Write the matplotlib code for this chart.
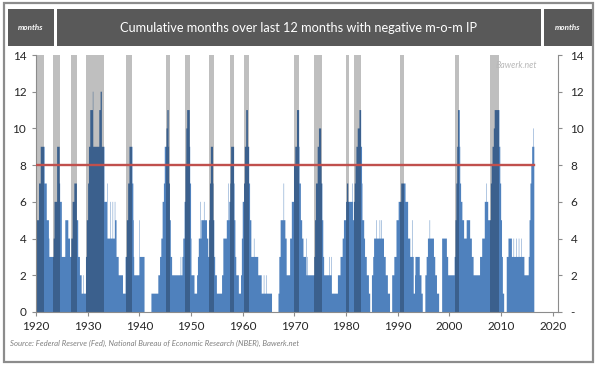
import matplotlib
matplotlib.use("Agg")
import matplotlib.pyplot as plt
import numpy as np
from matplotlib.patches import Rectangle

# ---------------- data ----------------
# Monthly series: months since Jan 1920 at which the count changes, and the new count
change_month = [
    0, 7, 11, 20, 25, 30, 31, 41, 43, 49, 55, 56, 60, 68, 75, 79, 82, 85, 89, 95,
    98, 102, 106, 110, 111, 116, 118, 121, 123, 126, 132, 133, 147, 150, 153, 159,
    165, 166, 172, 173, 178, 179, 183, 184, 187, 192, 202, 208, 211, 214, 217, 224,
    226, 227, 228, 240, 241, 252, 268, 284, 288, 291, 294, 297, 299, 303, 305, 308,
    309, 311, 313, 316, 336, 337, 340, 342, 345, 347, 349, 351, 357, 358, 360, 361,
    368, 374, 376, 378, 382, 383, 384, 390, 391, 397, 400, 402, 404, 406, 411, 412,
    414, 416, 420, 432, 435, 443, 446, 447, 449, 451, 452, 453, 460, 461, 463, 465,
    471, 476, 478, 480, 483, 485, 488, 492, 495, 497, 500, 506, 507, 516, 524, 529,
    530, 534, 535, 548, 563, 565, 568, 575, 576, 579, 582, 590, 594, 599, 602, 606,
    611, 612, 615, 618, 621, 627, 628, 630, 631, 646, 648, 650, 654, 657, 662, 663,
    665, 667, 669, 681, 682, 686, 687, 701, 707, 712, 715, 720, 722, 725, 735, 736,
    738, 740, 742, 744, 747, 751, 755, 757, 758, 762, 764, 768, 773, 776, 780, 783,
    785, 790, 791, 798, 799, 802, 803, 808, 812, 817, 822, 827, 832, 837, 842, 848,
    858, 864, 869, 873, 874, 877, 880, 881, 891, 895, 898, 904, 907, 910, 914, 915,
    924, 927, 931, 936, 943, 954, 957, 972, 974, 976, 978, 980, 984, 985, 987, 990,
    994, 1000, 1008, 1012, 1016, 1031, 1036, 1042, 1046, 1047, 1050, 1056, 1058,
    1060, 1063, 1065, 1076, 1078, 1080, 1082, 1084, 1087, 1093, 1097, 1105, 1109,
    1110, 1115, 1116, 1121, 1122, 1127, 1128, 1134, 1144, 1146, 1148, 1150, 1152,
    1154, 1155,
]
change_value = [
    5, 7, 9, 7, 5, 4, 3, 4, 6, 9, 7, 6, 3, 5, 4, 3, 4, 6, 7, 5,
    3, 2, 1, 2, 1, 3, 5, 7, 9, 11, 12, 9, 11, 12, 9, 6,
    7, 4, 6, 4, 6, 4, 6, 5, 3, 2, 1, 3, 5, 7, 9, 7,
    5, 3, 2, 5, 3, 0, 1, 2, 3, 4, 6, 7, 9, 10, 11, 9,
    7, 5, 3, 2, 3, 2, 3, 4, 6, 8, 10, 11, 9, 7, 4, 2,
    1, 2, 3, 4, 6, 4, 5, 6, 5, 4, 3, 5, 7, 9, 7, 5,
    3, 2, 1, 2, 4, 5, 7, 5, 6, 7, 8, 9, 7, 5, 3, 2,
    1, 2, 4, 6, 7, 9, 11, 9, 7, 5, 3, 4, 3, 2, 1, 2,
    1, 2, 1, 0, 1, 3, 5, 7, 5, 4, 2, 4, 6, 8, 9, 11,
    9, 7, 5, 4, 3, 4, 2, 3, 2, 3, 5, 7, 9, 10, 8, 7,
    5, 3, 2, 3, 2, 3, 1, 2, 3, 4, 5, 6, 7, 6, 7, 5,
    6, 7, 8, 9, 10, 11, 9, 7, 5, 4, 3, 2, 1, 0, 2, 3,
    4, 5, 4, 5, 4, 5, 4, 3, 2, 1, 0, 2, 3, 5, 6, 7,
    6, 4, 3, 5, 3, 1, 2, 3, 2, 1, 0, 2, 3, 4, 5, 4,
    3, 2, 1, 0, 4, 3, 2, 3, 5, 7, 9, 11, 9, 7, 6, 5,
    4, 5, 4, 3, 2, 3, 4, 6, 7, 6, 5, 7, 8,
    9, 10, 11, 9, 7, 5, 3, 1, 0, 3, 4, 3, 4,
    3, 4, 3, 4, 3, 4, 3, 2, 3, 5, 7, 8, 9,
    10, 9,
]
end_month = 1157          # data runs through Apr 2016
start_year = 1920
threshold = 8

# NBER recessions (peak month, trough month)
recession_start = ["1920-01", "1923-05", "1926-10", "1929-08", "1937-05", "1945-02",
                   "1948-11", "1953-07", "1957-08", "1960-04", "1969-12", "1973-11",
                   "1980-01", "1981-07", "1990-07", "2001-03", "2007-12"]
recession_end = ["1921-07", "1924-07", "1927-11", "1933-03", "1938-06", "1945-10",
                 "1949-10", "1954-05", "1958-04", "1961-02", "1970-11", "1975-03",
                 "1980-07", "1982-11", "1991-03", "2001-11", "2009-06"]

x_ticks = [1920, 1930, 1940, 1950, 1960, 1970, 1980, 1990, 2000, 2010, 2020]
y_ticks = [0, 2, 4, 6, 8, 10, 12, 14]
right_labels = ["-", "2", "4", "6", "8", "10", "12", "14"]

title = "Cumulative months over last 12 months with negative m-o-m IP"
unit_label = "months"
source = "Source: Federal Reserve (Fed), National Bureau of Economic Research (NBER), Bawerk.net"
watermark = "Bawerk.net"

# ---------------- expand series ----------------
bounds = list(change_month) + [end_month]
monthly = np.concatenate([np.full(bounds[i + 1] - bounds[i], v)
                          for i, v in enumerate(change_value)])
edges = start_year + np.arange(len(monthly) + 1) / 12.0

def ym(s, end=False):
    y, m = s.split("-")
    return int(y) + (int(m) - (0 if end else 1)) / 12.0

# ---------------- figure ----------------
plt.rcParams['font.family'] = ['Lato', 'DejaVu Sans']
W, H = 600, 367
fig = plt.figure(figsize=(6, 3.67), dpi=100)
fig.patch.set_facecolor("white")

def fx(px): return px / W
def fy(py): return 1 - py / H

# outer frame
fig.add_artist(Rectangle((fx(4), fy(362)), fx(593) - fx(4), (362 - 3) / H,
                         transform=fig.transFigure, fill=False,
                         edgecolor="#8c8c8c", lw=1.6))
# header boxes
hdr_top, hdr_bot = 9, 46
for x0, x1 in [(8, 54), (57, 541), (544, 592)]:
    fig.add_artist(Rectangle((fx(x0), fy(hdr_bot)), fx(x1) - fx(x0), (hdr_bot - hdr_top) / H,
                             transform=fig.transFigure, facecolor="#595959",
                             edgecolor="none"))
ymid = fy((hdr_top + hdr_bot) / 2)
fig.text(fx(31), ymid, unit_label, color="white", fontsize=5.8, fontweight="bold",
         fontstyle="italic", ha="center", va="center")
fig.text(fx(568), ymid, unit_label, color="white", fontsize=5.8, fontweight="bold",
         fontstyle="italic", ha="center", va="center")
fig.text(fx(298), ymid, title, color="white", fontsize=9.2, ha="center", va="center")

# axes
ax = fig.add_axes([fx(36), fy(312), fx(558) - fx(36), (312 - 55) / H])
ax.stairs(monthly, edges, fill=True, color="#4F81BD", lw=0, zorder=1)
for s, e in zip(recession_start, recession_end):
    ax.axvspan(ym(s), ym(e, end=True), ymin=0, ymax=1, facecolor="black",
               alpha=0.25, lw=0, zorder=2)
ax.plot([edges[0], edges[-1]], [threshold, threshold], color="#C0504D", lw=1.7, zorder=3)

ax.set_xlim(1920, 2021)
ax.set_ylim(0, 14)
ax.set_xticks(x_ticks)
ax.set_xticklabels([str(t) for t in x_ticks])
ax.set_yticks(y_ticks)
ax.set_yticklabels([str(t) for t in y_ticks])
for sp in ["top", "right"]:
    ax.spines[sp].set_visible(False)
for sp in ["left", "bottom"]:
    ax.spines[sp].set_color("#8c8c8c")
    ax.spines[sp].set_linewidth(0.8)
ax.tick_params(axis="both", colors="#8c8c8c", labelcolor="#262626", labelsize=8.5,
               length=3, width=0.8)
ax.tick_params(axis="y", pad=4)

ax2 = ax.twinx()
ax2.set_ylim(0, 14)
ax2.set_yticks(y_ticks)
ax2.set_yticklabels(right_labels)
for sp in ["top", "left", "bottom"]:
    ax2.spines[sp].set_visible(False)
ax2.spines["right"].set_color("#8c8c8c")
ax2.spines["right"].set_linewidth(0.8)
ax2.tick_params(axis="y", colors="#8c8c8c", labelcolor="#262626", labelsize=8.5,
                length=3, width=0.8, pad=6)

ax.text(2016.9, 13.45, watermark, color="#b8b8b8", fontsize=6.3, fontstyle="italic",
        ha="right", va="center", zorder=4)

fig.text(fx(10), fy(343), source, color="#808080", fontsize=5.6, fontstyle="italic",
         ha="left", va="center")

fig.savefig("out.png", dpi=100, facecolor="white")
